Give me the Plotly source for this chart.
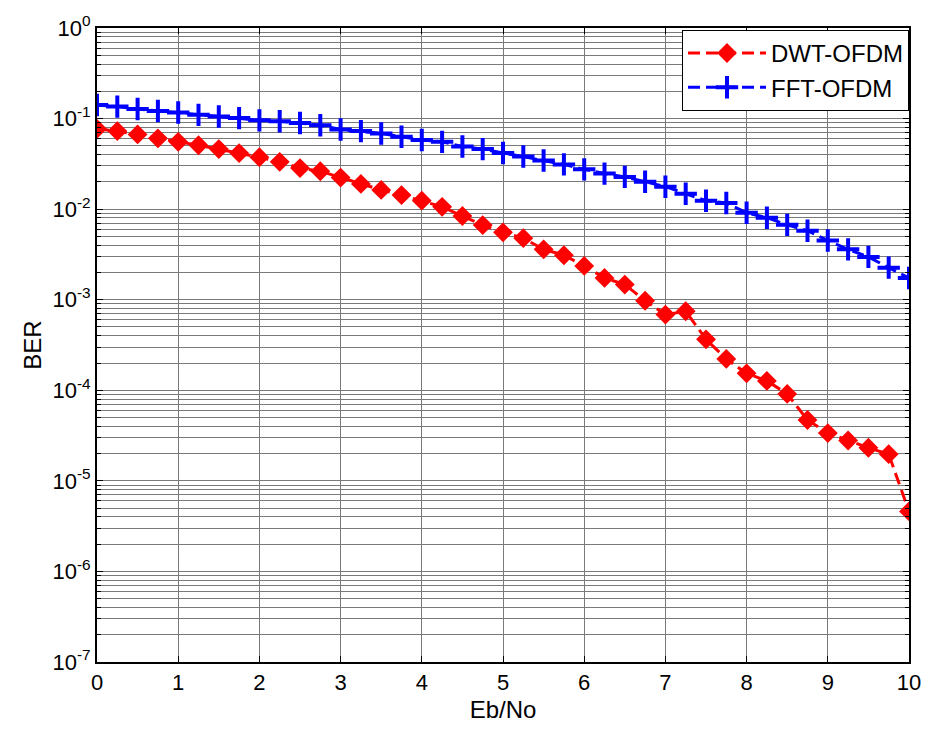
import plotly.graph_objects as go

ebno = [i * 0.25 for i in range(41)]

dwt_ofdm = [0.0770, 0.0727, 0.0668, 0.0605, 0.0553, 0.0508, 0.0460, 0.0416, 0.0374, 0.0333,
            0.0284, 0.0262, 0.0223, 0.0190, 0.0163, 0.0143, 0.0124, 0.0106, 0.0084, 0.00667,
            0.00554, 0.00478, 0.00360, 0.00310, 0.00236, 0.00174, 0.00147, 0.000975, 0.000685, 0.000745,
            0.000365, 0.000222, 0.000154, 0.000127, 0.0000912, 0.0000470, 0.0000337, 0.0000279, 0.0000232, 0.0000197,
            0.0000046]

fft_ofdm = [0.141, 0.1355, 0.1276, 0.1214, 0.1167, 0.1099, 0.1056, 0.1012, 0.0956, 0.0933,
            0.0894, 0.0844, 0.0757, 0.0727, 0.0685, 0.0631, 0.0581, 0.0553, 0.0492, 0.0460,
            0.0416, 0.0381, 0.0345, 0.0312, 0.0275, 0.0247, 0.0227, 0.0201, 0.0177, 0.0148,
            0.0124, 0.0117, 0.00912, 0.00805, 0.00671, 0.00578, 0.00451, 0.00360, 0.00297, 0.00226,
            0.00174]

x_ticks = list(range(11))
y_tickvals = [1e-7, 1e-6, 1e-5, 1e-4, 1e-3, 1e-2, 1e-1, 1]
y_ticktext = ["10<sup>-7</sup>", "10<sup>-6</sup>", "10<sup>-5</sup>", "10<sup>-4</sup>",
              "10<sup>-3</sup>", "10<sup>-2</sup>", "10<sup>-1</sup>", "10<sup>0</sup>"]
y_minor = [m * d for d in y_tickvals[:-1] for m in range(2, 10)]

FONT = "Liberation Sans, Arial, sans-serif"
GRID = "#7a7a7a"

fig = go.Figure()
fig.add_trace(go.Scatter(
    x=ebno, y=dwt_ofdm, name="DWT-OFDM", mode="lines+markers",
    line=dict(color="#ff0000", width=3, dash="12px,6px"),
    marker=dict(symbol="diamond", size=12, color="#ff0000", line=dict(color="#ff0000", width=3)),
))
fig.add_trace(go.Scatter(
    x=ebno, y=fft_ofdm, name="FFT-OFDM", mode="lines+markers",
    line=dict(color="#0000ff", width=3, dash="12px,6px"),
    marker=dict(symbol="cross-thin", size=16, color="#0000ff", line=dict(color="#0000ff", width=4)),
))

fig.update_layout(
    width=933, height=731,
    margin=dict(l=97, r=14, t=18, b=64),
    paper_bgcolor="white", plot_bgcolor="white",
    font=dict(family=FONT, size=22, color="black"),
    showlegend=True,
    legend=dict(x=1, xanchor="right", y=0.997, yanchor="top",
                bgcolor="white", bordercolor="black", borderwidth=1,
                font=dict(size=24), itemwidth=78, tracegroupgap=0),
    xaxis=dict(
        range=[0, 10], tickvals=x_ticks, ticks="inside", ticklen=6, tickcolor="black",
        showline=True, linecolor="black", linewidth=2, mirror="allticks",
        showgrid=True, gridcolor=GRID, gridwidth=1, zeroline=False,
        title=dict(text="Eb/No", font=dict(size=24), standoff=7),
        tickfont=dict(size=22),
    ),
    yaxis=dict(
        type="log", range=[-7, 0], tickvals=y_tickvals, ticktext=y_ticktext,
        ticks="inside", ticklen=6, tickcolor="black",
        showline=True, linecolor="black", linewidth=2, mirror="allticks",
        showgrid=True, gridcolor=GRID, gridwidth=1, zeroline=False,
        minor=dict(tickmode="array", tickvals=y_minor, ticks="inside", ticklen=4,
                   tickcolor="black", showgrid=True, gridcolor=GRID, gridwidth=1),
        title=dict(text="BER", font=dict(size=24), standoff=4),
        tickfont=dict(size=22),
    ),
)

fig.write_html("out.html")
